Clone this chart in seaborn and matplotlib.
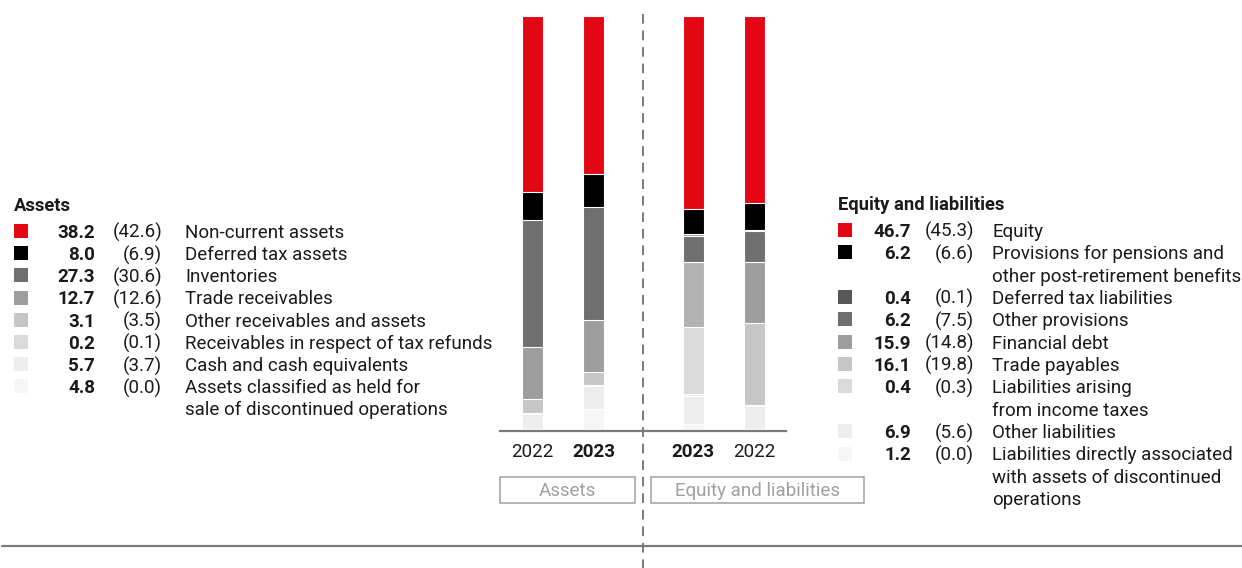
import matplotlib
matplotlib.use("Agg")
import matplotlib.pyplot as plt
from matplotlib.patches import Rectangle
import numpy as np
import seaborn as sns

# Balance sheet structure, % of total
asset_items = [
    "Non-current assets",
    "Deferred tax assets",
    "Inventories",
    "Trade receivables",
    "Other receivables and assets",
    "Receivables in respect of tax refunds",
    "Cash and cash equivalents",
    "Assets classified as held for\nsale of discontinued operations",
]
assets_2023 = [38.2, 8.0, 27.3, 12.7, 3.1, 0.2, 5.7, 4.8]
assets_2022 = [42.6, 6.9, 30.6, 12.6, 3.5, 0.1, 3.7, 0.0]

liability_items = [
    "Equity",
    "Provisions for pensions and\nother post-retirement benefits",
    "Deferred tax liabilities",
    "Other provisions",
    "Financial debt",
    "Trade payables",
    "Liabilities arising\nfrom income taxes",
    "Other liabilities",
    "Liabilities directly associated\nwith assets of discontinued\noperations",
]
liabilities_2023 = [46.7, 6.2, 0.4, 6.2, 15.9, 16.1, 0.4, 6.9, 1.2]
liabilities_2022 = [45.3, 6.6, 0.1, 7.5, 14.8, 19.8, 0.3, 5.6, 0.0]

bar_years = ["2022", "2023", "2023", "2022"]
group_labels = ["Assets", "Equity and liabilities"]

# Styling
RED = "#E30613"
asset_colors = [RED, "#000000", "#6F6F6F", "#9D9D9D", "#C6C6C6", "#DADADA", "#EDEDED", "#F6F6F6"]
liability_colors = [RED, "#000000", "#575757", "#6F6F6F", "#9D9D9D", "#C6C6C6", "#DADADA", "#EDEDED", "#F6F6F6"]
liability_colors_current = [RED, "#000000", "#9A9A9A", "#6F6F6F", "#B2B2B2", "#DADADA", "#E8E8E8", "#EDEDED", "#F6F6F6"]
TEXT = "#1A1A1A"
LINE = "#7A7A7A"
BOX = "#A0A0A0"

sns.set_theme(style="white")
plt.rcParams["font.family"] = ["Roboto", "DejaVu Sans"]

W, H = 1242, 568
fig = plt.figure(figsize=(W / 100, H / 100), dpi=100)

# Full-figure canvas in pixel coordinates for legends and frame lines
canvas = fig.add_axes([0, 0, 1, 1], zorder=0)
canvas.set_xlim(0, W)
canvas.set_ylim(H, 0)
canvas.axis("off")

# Bar axes
ax_left, ax_right, ax_top, ax_bottom = 500, 786, 16, 431
ax = fig.add_axes([ax_left / W, 1 - ax_bottom / H, (ax_right - ax_left) / W, (ax_bottom - ax_top) / H], zorder=2)
ax.patch.set_alpha(0)

step = 61.0
positions = [0.0, 1.0, 2.635, 3.635]
bar_width = 21 / step

bars = [
    (assets_2022, asset_colors),
    (assets_2023, asset_colors),
    (liabilities_2023, liability_colors_current),
    (liabilities_2022, liability_colors),
]

for pos, (values, colors) in zip(positions, bars):
    vals = np.array(values)
    # stacked from the bottom: first item sits on top
    tops = vals[::-1].cumsum()[::-1]
    for top, col in zip(tops, colors):
        sns.barplot(x=[pos], y=[top], native_scale=True, orient="x", color=col,
                    saturation=1, width=bar_width, errorbar=None,
                    edgecolor="white", linewidth=0.8, ax=ax)

ax.set_xlim((ax_left - 532.5) / step, (ax_right - 532.5) / step)
ax.set_ylim(-0.48, 100)
ax.set_yticks([])
ax.set_xticks(positions)
ax.set_xticklabels(bar_years, fontsize=13.5, color=TEXT)
for lbl, wt in zip(ax.get_xticklabels(), ["normal", "bold", "bold", "normal"]):
    lbl.set_fontweight(wt)
ax.tick_params(axis="x", length=0, pad=8.5)
ax.set_xlabel("")
ax.set_ylabel("")
for side in ["left", "right", "top"]:
    ax.spines[side].set_visible(False)
ax.spines["bottom"].set_color(LINE)
ax.spines["bottom"].set_linewidth(1.6)

# Divider and base line
canvas.plot([643, 643], [14, H], color=LINE, lw=1.4, dashes=(5, 3.5))
canvas.plot([2, W], [546, 546], color=LINE, lw=1.6)

# Group boxes under the bars
for (x0, x1), label in zip([(500, 635), (651, 864)], group_labels):
    canvas.add_patch(Rectangle((x0, 477), x1 - x0, 26, fill=False, edgecolor=BOX, lw=1.1))
    canvas.text((x0 + x1) / 2, 491, label, ha="center", va="center", fontsize=13.5, color=BOX)

TY = 1.8  # text baseline nudge relative to swatch centre


def legend_block(x_sw, x_val, x_prev, x_lab, y_title, y0, dy, title, items, cur, prev, colors):
    canvas.text(x_sw, y_title + TY, title, ha="left", va="center", fontsize=13.2,
                fontweight="bold", color=TEXT)
    row = 0
    for item, c, p, col in zip(items, cur, prev, colors):
        y = y0 + row * dy
        canvas.add_patch(Rectangle((x_sw, y - 7), 14, 14, facecolor=col, edgecolor="none"))
        canvas.text(x_val, y + TY, f"{c:.1f}", ha="right", va="center", fontsize=13.5,
                    fontweight="bold", color=TEXT)
        canvas.text(x_prev, y + TY, f"({p:.1f})", ha="right", va="center", fontsize=13.5, color=TEXT)
        for k, line in enumerate(item.split("\n")):
            canvas.text(x_lab, y + TY + k * dy, line, ha="left", va="center", fontsize=13.5, color=TEXT)
        row += len(item.split("\n"))


legend_block(14, 95, 162, 185, 204, 231, 22.2, "Assets",
             asset_items, assets_2023, assets_2022, asset_colors)
legend_block(838, 911, 974, 992, 203, 230, 22.35, "Equity and liabilities",
             liability_items, liabilities_2023, liabilities_2022, liability_colors)

fig.savefig("out.png", dpi=100, facecolor="white")
